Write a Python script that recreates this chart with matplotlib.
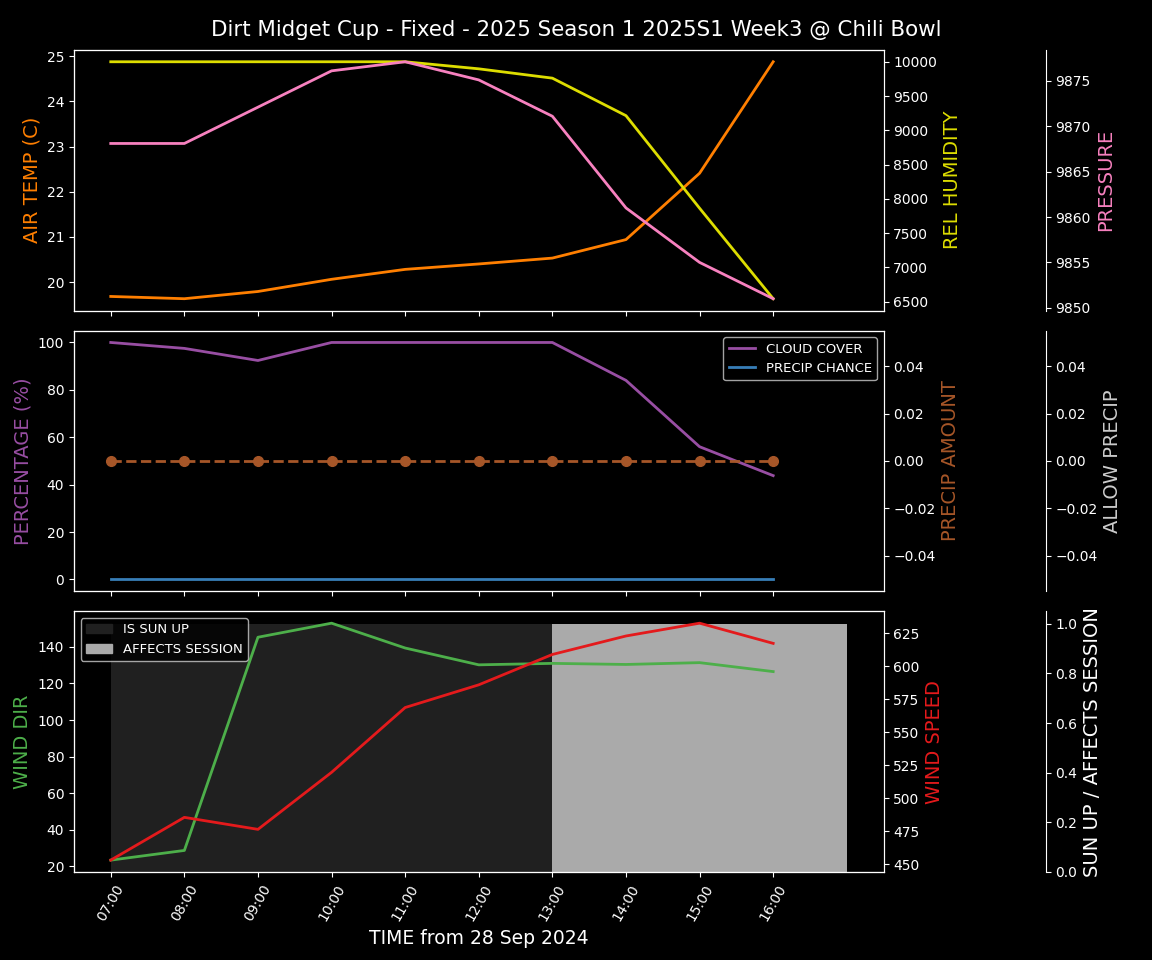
"""Weather summary figure for a race session (three stacked panels)."""
import matplotlib
matplotlib.use("Agg")
import matplotlib.pyplot as plt
import matplotlib.patches as mpatches

plt.style.use("dark_background")

# ---------------------------------------------------------------------------
# Data (hourly, 28 Sep 2024)
# ---------------------------------------------------------------------------
HOURS = [7, 8, 9, 10, 11, 12, 13, 14, 15, 16]
HOUR_LABELS = ["07:00", "08:00", "09:00", "10:00", "11:00",
               "12:00", "13:00", "14:00", "15:00", "16:00"]

air_temp = [19.68, 19.63, 19.79, 20.06, 20.28, 20.40, 20.53, 20.94, 22.41, 24.88]
rel_humidity = [10000, 10000, 10000, 10000, 10000, 9897, 9761, 9214, 7864, 6544]
pressure = [9868.1, 9868.1, 9872.1, 9876.1, 9877.1, 9875.1, 9871.1, 9861.0, 9855.0, 9851.0]

cloud_cover = [100, 97.5, 92.4, 100, 100, 100, 100, 84.0, 56.0, 43.8]
precip_chance = [0, 0, 0, 0, 0, 0, 0, 0, 0, 0]
precip_amount = [0, 0, 0, 0, 0, 0, 0, 0, 0, 0]

wind_dir = [23.3, 28.6, 145.3, 153.0, 139.4, 130.2, 131.0, 130.4, 131.4, 126.5]
wind_speed = [453.0, 485.4, 476.3, 519.5, 568.6, 585.8, 608.8, 622.8, 632.5, 617.2]

is_sun_up = [1, 1, 1, 1, 1, 1, 1, 1, 1, 1]
affects_session = [0, 0, 0, 0, 0, 0, 1, 1, 1, 1]

TITLE = "Dirt Midget Cup - Fixed - 2025 Season 1 2025S1 Week3 @ Chili Bowl"

C_TEMP = "#ff7f00"
C_HUM = "#dddd00"
C_PRES = "#f781bf"
C_CLOUD = "#984ea3"
C_CHANCE = "#377eb8"
C_AMOUNT = "#a65628"
C_ALLOW = "#cccccc"
C_DIR = "#4daf4a"
C_SPEED = "#e41a1c"
C_SUN = "#202020"
C_AFFECT = "#aaaaaa"

LABEL_FS = 14


def offset_axis(ax):
    tw = ax.twinx()
    tw.spines["right"].set_position(("axes", 1.2))
    return tw


def main() -> None:
    fig, (ax1, ax2, ax3) = plt.subplots(3, 1, figsize=(11.52, 9.6), sharex=True)
    fig.subplots_adjust(left=0.0642, right=0.767, top=0.948, bottom=0.0917, hspace=0.077)
    fig.suptitle(TITLE, fontsize=15.4, y=0.979)

    # --- panel 1: temperature / humidity / pressure ---
    ax1.plot(HOURS, air_temp, color=C_TEMP, lw=2)
    ax1.set_ylabel("AIR TEMP (C)", color=C_TEMP, fontsize=LABEL_FS)
    ax1b = ax1.twinx()
    ax1b.plot(HOURS, rel_humidity, color=C_HUM, lw=2)
    ax1b.set_ylabel("REL HUMIDITY", color=C_HUM, fontsize=LABEL_FS)
    ax1c = offset_axis(ax1)
    ax1c.plot(HOURS, pressure, color=C_PRES, lw=2)
    ax1c.set_ylabel("PRESSURE", color=C_PRES, fontsize=LABEL_FS)

    # --- panel 2: cloud / precipitation ---
    ax2.plot(HOURS, cloud_cover, color=C_CLOUD, lw=2, label="CLOUD COVER")
    ax2.plot(HOURS, precip_chance, color=C_CHANCE, lw=2, label="PRECIP CHANCE")
    ax2.set_ylabel("PERCENTAGE (%)", color=C_CLOUD, fontsize=LABEL_FS)
    ax2.set_ylim(-5, 105)
    ax2.legend(loc="upper right", fontsize=9.5)
    ax2b = ax2.twinx()
    ax2b.plot(HOURS, precip_amount, color=C_AMOUNT, lw=2, ls="--", marker="o", ms=7)
    ax2b.set_ylabel("PRECIP AMOUNT", color=C_AMOUNT, fontsize=LABEL_FS)
    ax2c = offset_axis(ax2)
    ax2c.set_ylim(-0.055, 0.055)
    ax2c.set_ylabel("ALLOW PRECIP", color=C_ALLOW, fontsize=LABEL_FS)

    # --- panel 3: wind + sun / session shading ---
    ax3c = offset_axis(ax3)
    ax3c.bar(HOURS, is_sun_up, width=1.0, align="edge", color=C_SUN)
    ax3c.bar(HOURS, affects_session, width=1.0, align="edge", color=C_AFFECT)
    ax3c.set_ylabel("SUN UP / AFFECTS SESSION", color="white", fontsize=LABEL_FS)

    ax3.plot(HOURS, wind_dir, color=C_DIR, lw=2)
    ax3.set_ylabel("WIND DIR", color=C_DIR, fontsize=LABEL_FS)
    ax3b = ax3.twinx()
    ax3b.plot(HOURS, wind_speed, color=C_SPEED, lw=2)
    ax3b.set_ylabel("WIND SPEED", color=C_SPEED, fontsize=LABEL_FS)

    # shading behind the lines
    ax3c.set_zorder(0)
    ax3.set_zorder(1)
    ax3b.set_zorder(2)
    ax3.patch.set_visible(False)
    ax3c.patch.set_visible(False)

    handles = [mpatches.Patch(color=C_SUN, label="IS SUN UP"),
               mpatches.Patch(color=C_AFFECT, label="AFFECTS SESSION")]
    ax3b.legend(handles=handles, loc="upper left", fontsize=9.5)

    ax3.set_xticks(HOURS)
    ax3.set_xticklabels(HOUR_LABELS, rotation=60, ha="center")
    ax3.set_xlim(6.5, 17.5)
    ax3.set_xlabel("TIME from 28 Sep 2024", fontsize=13.5)

    fig.savefig("out.png", dpi=100, facecolor="black")
    plt.close(fig)


if __name__ == "__main__":
    main()
